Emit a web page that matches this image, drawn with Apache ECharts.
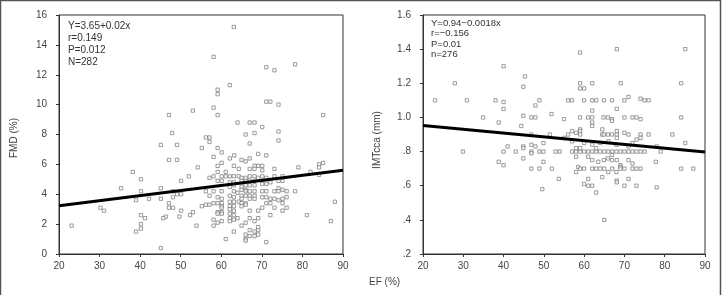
<!DOCTYPE html>
<html><head><meta charset="utf-8">
<script src="https://cdn.jsdelivr.net/npm/echarts@6/dist/echarts.min.js"></script>
<style>html,body{margin:0;padding:0;background:#fff}#c{width:724px;height:295px}</style>
</head><body><div id="c"></div>
<script>
// Left panel: EF (%) vs FMD (%)
const fmdEF = [63.1,58.1,71.1,73.1,78.2,62.1,59.1,59.1,71.1,72.1,74.1,53.0,58.1,47.1,59.1,85.1,64.0,67.0,68.2,70.1,47.9,66.0,68.2,74.1,56.2,57.1,57.1,67.0,74.1,45.1,49.1,55.2,59.1,
60.1,63.2,69.1,71.1,47.1,49.1,58.1,62.1,65.0,66.0,67.0,59.1,60.1,54.2,63.1,64.3,68.2,69.1,70.1,67.0,68.2,70.1,73.1,79.0,84.1,85.1,82.0,84.1,38.2,59.1,61.1,52.0,40.2,50.1,57.1,58.1,60.1,61.1,62.1,63.1,64.3,65.0,66.0,67.0,68.2,69.1,70.1,71.1,73.1,75.1,84.1,
59.1,60.1,62.1,63.1,65.0,66.0,67.0,68.2,70.1,71.1,72.1,74.1,75.1,62.1,63.1,65.0,66.0,67.0,68.2,70.1,74.1,75.1,76.1,78.2,35.3,45.1,40.2,48.1,49.1,50.1,56.2,58.1,60.1,63.1,64.0,65.0,66.0,66.0,67.0,68.2,70.1,71.1,73.1,74.1,
42.2,45.1,48.1,57.1,59.1,60.1,62.1,63.1,65.0,66.0,67.0,68.2,65.0,67.0,68.2,70.1,71.1,72.1,73.1,74.1,75.1,76.1,39.0,62.1,63.1,64.3,47.1,58.1,59.1,60.1,65.0,66.0,71.1,72.1,75.1,
30.2,55.2,56.2,57.1,60.1,62.1,63.1,65.0,66.0,70.1,73.1,76.1,47.1,48.1,60.1,62.1,63.1,31.1,50.1,53.0,59.1,60.1,67.0,69.1,75.1,88.0,59.1,60.1,62.1,63.1,52.3,72.1,81.1,40.2,41.2,46.3,45.7,49.7,62.1,62.1,63.1,64.0,67.0,69.1,58.1,59.1,60.1,68.2,40.2,87.0,
23.1,53.9,58.1,65.0,66.0,40.2,39.0,63.1,67.0,68.2,69.1,69.1,66.0,67.0,68.2,69.1,66.0,66.0,61.1,71.1,45.1];
const fmdVal = [15.2,13.2,12.5,12.3,12.7,11.3,11.0,10.7,10.2,10.2,10.0,9.6,9.8,9.3,9.3,9.3,8.8,8.8,8.8,8.5,8.1,8.0,8.1,8.2,7.8,7.8,7.5,7.4,7.6,7.3,7.3,7.1,7.1,
6.8,6.6,6.7,6.6,6.3,6.3,6.5,6.4,6.3,6.2,6.4,5.9,6.1,5.8,5.9,5.7,5.9,5.9,5.9,5.7,5.7,5.6,5.7,5.8,6.0,6.1,5.5,5.8,5.5,5.5,5.5,5.2,5.0,4.9,5.1,5.2,5.2,5.2,5.2,5.2,5.2,5.1,5.1,5.2,5.2,5.1,5.2,5.1,5.2,5.2,5.3,
4.9,4.9,4.8,4.8,4.9,4.9,4.9,4.9,4.9,4.7,4.8,4.9,4.9,4.5,4.6,4.5,4.6,4.6,4.6,4.7,4.4,4.3,4.2,4.2,4.4,4.4,4.2,4.2,4.0,4.0,4.2,4.2,4.2,4.2,4.1,4.3,4.3,4.2,4.2,4.2,4.2,4.2,4.2,4.2,
3.7,3.7,3.8,3.9,3.8,3.7,3.9,3.8,3.9,3.9,3.9,3.9,3.7,3.7,3.7,3.8,3.8,3.7,3.7,3.6,3.7,3.8,3.6,3.5,3.5,3.5,3.4,3.4,3.4,3.4,3.4,3.4,3.4,3.4,3.4,
3.1,3.2,3.3,3.3,3.2,3.2,3.2,3.2,3.3,3.1,3.1,3.1,3.1,3.1,3.1,3.0,2.9,2.9,2.9,2.8,2.8,2.8,2.9,2.9,2.9,3.5,2.7,2.7,2.7,2.6,2.6,2.6,2.6,2.6,2.4,2.5,2.4,2.5,2.4,2.2,2.3,2.4,2.4,2.4,2.3,2.1,2.2,2.2,2.0,2.2,
1.9,1.9,1.9,1.9,2.1,1.7,1.5,1.5,1.6,1.5,1.6,1.8,1.3,1.2,1.2,1.3,1.0,0.9,1.0,0.8,0.4];
const fmdFitEF = [20, 90];
const fmdFitVal = [3.23, 5.61];
const fmdText = ['Y=3.65+0.02x', 'r=0.149', 'P=0.012', 'N=282'];

// Right panel: EF (%) vs IMTcca (mm)
const imtEF = [23.0,27.9,30.9,34.9,38.0,38.8,40.0,40.0,40.0,44.9,45.3,44.4,44.9,46.9,47.9,47.9,48.9,51.9,55.0,56.0,57.0,59.0,59.0,59.0,60.0,60.0,62.0,63.0,62.0,59.0,61.0,62.0,62.0,62.0,62.0,
64.9,66.9,68.1,69.1,68.1,70.0,71.0,64.8,65.9,66.9,66.9,70.0,72.0,73.0,74.0,74.0,75.0,76.0,84.1,85.1,84.1,85.1,81.9,76.0,74.0,74.0,73.0,70.0,71.0,64.5,64.5,64.9,65.9,66.9,68.1,68.1,68.1,
59.0,59.0,59.0,57.0,58.0,56.0,55.0,51.5,46.9,41.0,44.9,46.9,47.9,49.9,57.0,60.0,62.0,64.0,66.0,68.0,71.0,72.0,78.0,
29.9,40.0,43.0,44.9,46.9,48.9,49.9,52.9,53.9,57.0,58.0,59.0,60.0,58.0,59.0,61,62,63,64,65,66,67,68,69,70,71,72,73,74,75,63.0,79.0,
38.8,40.0,44.9,46.9,49.9,58.0,58.0,61.0,62.0,63.5,64.9,65.9,66.9,68.1,66.9,69.0,69.0,71.0,72.0,77.8,46.9,48.9,52.0,58.5,59.0,60.0,62,63,64,65,67,69,70,72,73,74,84.1,87.1,
66.0,68.0,68.1,68.1,53.7,61.0,64.5,71.0,60.0,61.0,62.0,70.0,73.0,78.0,49.6,63.0,65.0];
const imtVal = [1.10,1.20,1.10,1.00,1.10,0.97,1.30,1.09,1.05,1.18,1.24,0.95,1.01,1.00,1.00,1.07,1.10,1.02,0.99,1.10,1.10,1.38,1.20,1.17,1.17,1.10,1.10,1.10,1.20,1.00,1.00,1.00,1.04,0.97,0.95,
1.10,1.10,1.40,1.20,1.05,1.10,1.12,1.00,1.00,0.99,0.98,1.00,1.00,1.00,0.99,1.11,1.10,1.10,1.20,1.40,1.00,0.85,0.90,0.90,0.90,0.88,0.87,0.91,0.90,0.93,0.90,0.90,0.90,0.90,0.90,0.92,0.88,
0.93,0.92,0.90,0.92,0.91,0.90,0.88,0.90,0.90,0.83,0.83,0.84,0.83,0.85,0.86,0.85,0.84,0.85,0.86,0.84,0.83,0.85,0.83,
0.80,0.80,0.80,0.82,0.80,0.80,0.80,0.80,0.80,0.80,0.80,0.80,0.80,0.82,0.82,0.80,0.80,0.80,0.80,0.80,0.80,0.80,0.80,0.80,0.80,0.80,0.80,0.80,0.80,0.80,0.82,0.80,
0.74,0.72,0.76,0.79,0.74,0.77,0.68,0.77,0.75,0.74,0.75,0.76,0.75,0.75,0.78,0.72,0.71,0.75,0.73,0.74,0.70,0.70,0.70,0.71,0.70,0.70,0.70,0.70,0.70,0.70,0.70,0.70,0.70,0.70,0.70,0.70,0.70,0.70,
0.68,0.68,0.63,0.62,0.64,0.64,0.65,0.64,0.61,0.60,0.60,0.60,0.60,0.59,0.58,0.56,0.40];
const imtFitEF = [20, 90];
const imtFitVal = [0.953, 0.797];
const imtText = ['Y=0.94\u22120.0018x', 'r=\u22120.156', 'P=0.01', 'n=276'];

const xTicks = [20, 30, 40, 50, 60, 70, 80, 90];
const fmdTicks = [0, 2, 4, 6, 8, 10, 12, 14, 16];
const imtTicks = ['.2', '.4', '.6', '.8', '1.0', '1.2', '1.4', '1.6'];

const zip = (a, b) => a.map((v, i) => [v, b[i]]);
const FONT = 'Liberation Sans';
const TXT = '#444';

const axisCommon = {
  axisLine: { show: true, lineStyle: { color: '#333', width: 1 } },
  axisTick: { show: true, inside: false, length: 3, lineStyle: { color: '#333' } },
  splitLine: { show: false },
  axisLabel: { color: TXT, fontSize: 10, fontFamily: FONT }
};

const chart = echarts.init(document.getElementById('c'), null, { renderer: 'canvas' });
const scatterStyle = {
  symbol: 'rect', symbolSize: 3.3,
  itemStyle: { color: '#fff', borderColor: '#777', borderWidth: 0.9 }
};

const graphics = [
  { type: 'rect', shape: { x: 0.5, y: 0.5, width: 720, height: 300 }, style: { fill: null, stroke: '#555', lineWidth: 1.5 }, silent: true },
  { type: 'text', x: 14, y: 138, rotation: Math.PI / 2, style: { text: 'FMD (%)', fill: TXT, font: '10px ' + FONT, textAlign: 'center', textVerticalAlign: 'middle' } },
  { type: 'text', x: 377, y: 140, rotation: Math.PI / 2, style: { text: 'IMTcca (mm)', fill: TXT, font: '10px ' + FONT, textAlign: 'center', textVerticalAlign: 'middle' } },
  { type: 'text', x: 369, y: 282, style: { text: 'EF (%)', fill: TXT, font: '10px ' + FONT, textAlign: 'left', textVerticalAlign: 'middle' } }
];
fmdText.forEach((t, i) => graphics.push({ type: 'text', x: 68, y: 26 + i * 12, style: { text: t, fill: '#333', font: '10px ' + FONT, textAlign: 'left', textVerticalAlign: 'middle' } }));
imtText.forEach((t, i) => graphics.push({ type: 'text', x: 431, y: 23 + i * 10.5, style: { text: t, fill: '#333', font: '9.5px ' + FONT, textAlign: 'left', textVerticalAlign: 'middle' } }));

chart.setOption({
  animation: false,
  backgroundColor: '#fff',
  grid: [
    { left: 59, top: 15, width: 284, height: 239, show: true, borderColor: '#333', borderWidth: 1, backgroundColor: 'transparent' },
    { left: 423, top: 15, width: 282, height: 239, show: true, borderColor: '#333', borderWidth: 1, backgroundColor: 'transparent' }
  ],
  xAxis: [
    Object.assign({}, axisCommon, { gridIndex: 0, type: 'value', min: xTicks[0], max: xTicks[xTicks.length - 1], interval: 10, axisLabel: Object.assign({}, axisCommon.axisLabel, { margin: 7 }) }),
    Object.assign({}, axisCommon, { gridIndex: 1, type: 'value', min: xTicks[0], max: xTicks[xTicks.length - 1], interval: 10, axisLabel: Object.assign({}, axisCommon.axisLabel, { margin: 7 }) })
  ],
  yAxis: [
    Object.assign({}, axisCommon, { gridIndex: 0, type: 'value', min: fmdTicks[0], max: fmdTicks[fmdTicks.length - 1], interval: 2, axisLabel: Object.assign({}, axisCommon.axisLabel, { margin: 12 }) }),
    Object.assign({}, axisCommon, { gridIndex: 1, type: 'value', min: 0.2, max: 1.6, interval: 0.2,
      axisLabel: Object.assign({}, axisCommon.axisLabel, { margin: 12, formatter: v => imtTicks[Math.round((v - 0.2) / 0.2)] || '' }) })
  ],
  series: [
    Object.assign({ type: 'scatter', xAxisIndex: 0, yAxisIndex: 0, data: zip(fmdEF, fmdVal), z: 2 }, scatterStyle),
    { type: 'line', xAxisIndex: 0, yAxisIndex: 0, data: zip(fmdFitEF, fmdFitVal), symbol: 'none', lineStyle: { color: '#000', width: 3 }, z: 3 },
    Object.assign({ type: 'scatter', xAxisIndex: 1, yAxisIndex: 1, data: zip(imtEF, imtVal), z: 2 }, scatterStyle),
    { type: 'line', xAxisIndex: 1, yAxisIndex: 1, data: zip(imtFitEF, imtFitVal), symbol: 'none', lineStyle: { color: '#000', width: 3 }, z: 3 }
  ],
  graphic: graphics
});
</script>
</body></html>
